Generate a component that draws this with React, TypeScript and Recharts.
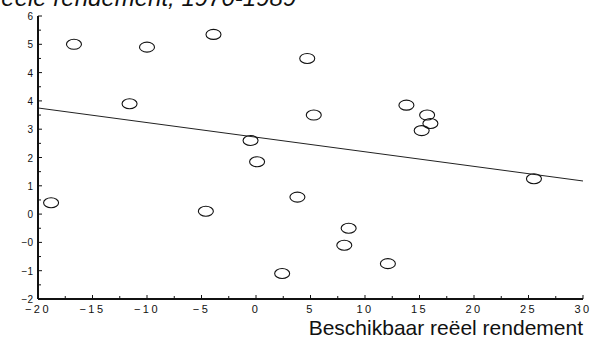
import React from 'react';
import { ScatterChart, Scatter, XAxis, YAxis, ReferenceLine } from 'recharts';

// observations, 1970-1989
const pointX = [-18.8, -16.7, -10.0, -11.6, -3.9, -0.5, 0.1, -4.6, 2.4, 3.8, 4.7, 5.3, 13.8, 15.7, 16.0, 15.2, 25.5, 8.5, 8.1, 12.1];
const pointY = [-0.6, 5.0, 4.9, 2.9, 5.35, 1.6, 0.85, -0.9, -3.1, -0.4, 4.5, 2.5, 2.85, 2.5, 2.2, 1.95, 0.25, -1.5, -2.1, -2.75];

// fitted line end points
const fitX = [-20, 30];
const fitY = [2.75, 0.17];

const xTicks = [-20, -17.5, -15, -12.5, -10, -7.5, -5, -2.5, 0, 2.5, 5, 7.5, 10, 12.5, 15, 17.5, 20, 22.5, 25, 27.5, 30];
const yTicks = [6, 5.5, 5, 4.5, 4, 3.5, 3, 2.5, 2, 1.5, 1, 0.5, 0, -0.5, -1, -1.5, -2, -2.5, -3, -3.5, -4];
// labels as printed on the scan
const yTickLabels: Record<string, string> = {
  '6': '6', '5': '5', '4': '4', '3': '4', '2': '3', '1': '2',
  '0': '1', '-1': '0', '-2': '\u22120', '-3': '\u22121', '-4': '\u22122',
};

const title = 'Reële rendement, 1970-1989';
const xTitle = 'Beschikbaar reëel rendement';

const data = pointX.map((x, i) => ({ x, y: pointY[i] }));

const font = '"Liberation Sans", Arial, sans-serif';

const YTick = (props: any) => {
  const { x, y, payload } = props;
  const v = payload.value;
  const major = Number.isInteger(v);
  return (
    <g>
      <line x1={x} x2={x + (major ? 4 : 3)} y1={y} y2={y} stroke="#111" strokeWidth={1} />
      {major && (
        <text x={x - 5} y={y + 4} textAnchor="end" fontSize={10} fontFamily={font} fill="#111">
          {yTickLabels[String(v)]}
        </text>
      )}
    </g>
  );
};

const XTick = (props: any) => {
  const { x, y, payload } = props;
  const v = payload.value;
  const major = v % 5 === 0;
  const label = v < 0 ? '\u2212' + Math.abs(v) : String(v);
  return (
    <g>
      <line x1={x} x2={x} y1={y} y2={y - (major ? 4 : 3)} stroke="#111" strokeWidth={1} />
      {major && (
        <text x={x} y={y + 14} textAnchor="middle" fontSize={11} letterSpacing={2.5} fontFamily={font} fill="#111">
          {label}
        </text>
      )}
    </g>
  );
};

const Ring = (props: any) => {
  const { cx, cy } = props;
  return <ellipse cx={cx} cy={cy} rx={7.5} ry={5} fill="none" stroke="#111" strokeWidth={1.1} />;
};

export default function App() {
  return (
    <div style={{ position: 'absolute', left: 0, top: 0, width: 595, height: 338, background: '#fff', overflow: 'hidden' }}>
      <ScatterChart width={595} height={338} margin={{ top: 16, right: 12, bottom: 0, left: 0 }}>
        <XAxis
          type="number"
          dataKey="x"
          domain={[-20, 30]}
          ticks={xTicks}
          interval={0}
          height={39}
          tickSize={0}
          tickMargin={0}
          tickLine={false}
          axisLine={{ stroke: '#111', strokeWidth: 2 }}
          tick={<XTick />}
          allowDataOverflow
        />
        <YAxis
          type="number"
          dataKey="y"
          domain={[-4, 6]}
          ticks={yTicks}
          interval={0}
          width={38}
          tickSize={0}
          tickMargin={0}
          tickLine={false}
          axisLine={{ stroke: '#111', strokeWidth: 2 }}
          tick={<YTick />}
          allowDataOverflow
        />
        <ReferenceLine
          segment={[{ x: fitX[0], y: fitY[0] }, { x: fitX[1], y: fitY[1] }]}
          stroke="#222"
          strokeWidth={1}
          ifOverflow="visible"
        />
        <Scatter data={data} shape={<Ring />} isAnimationActive={false} />
      </ScatterChart>
      <svg width={595} height={338} style={{ position: 'absolute', left: 0, top: 0, pointerEvents: 'none' }}>
        <text x={-16} y={5.5} fontSize={24} fontStyle="italic" fontFamily={font} fill="#111">
          {title}
        </text>
        <text x={583} y={335} textAnchor="end" fontSize={21} fontFamily={font} fill="#111">
          {xTitle}
        </text>
      </svg>
    </div>
  );
}
